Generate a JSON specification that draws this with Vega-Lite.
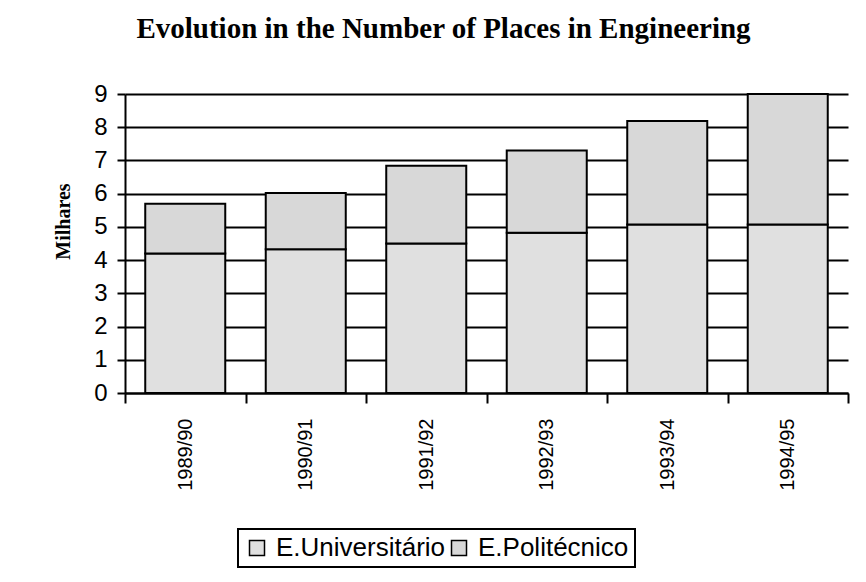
{
  "$schema": "https://vega.github.io/schema/vega-lite/v6.json",
  "width": 723,
  "height": 299,
  "autosize": {"type": "none"},
  "padding": {"left": 125, "top": 94, "right": 18, "bottom": 189},
  "background": "white",
  "title": {
    "text": "Evolution in the Number of Places in Engineering",
    "font": "Liberation Serif",
    "fontSize": 29,
    "fontWeight": "bold",
    "color": "black",
    "anchor": "middle",
    "frame": "group",
    "dx": -43,
    "baseline": "alphabetic",
    "offset": 15
  },
  "data": {
    "values": [
      {"year": "1989/90", "type": "E.Universitário", "rank": 1, "value": 4.20},
      {"year": "1989/90", "type": "E.Politécnico", "rank": 2, "value": 1.50},
      {"year": "1990/91", "type": "E.Universitário", "rank": 1, "value": 4.33},
      {"year": "1990/91", "type": "E.Politécnico", "rank": 2, "value": 1.69},
      {"year": "1991/92", "type": "E.Universitário", "rank": 1, "value": 4.50},
      {"year": "1991/92", "type": "E.Politécnico", "rank": 2, "value": 2.34},
      {"year": "1992/93", "type": "E.Universitário", "rank": 1, "value": 4.82},
      {"year": "1992/93", "type": "E.Politécnico", "rank": 2, "value": 2.48},
      {"year": "1993/94", "type": "E.Universitário", "rank": 1, "value": 5.07},
      {"year": "1993/94", "type": "E.Politécnico", "rank": 2, "value": 3.12},
      {"year": "1994/95", "type": "E.Universitário", "rank": 1, "value": 5.07},
      {"year": "1994/95", "type": "E.Politécnico", "rank": 2, "value": 3.93}
    ]
  },
  "mark": {"type": "bar", "stroke": "black", "strokeWidth": 2, "width": {"band": 0.664}},
  "encoding": {
    "x": {
      "field": "year",
      "type": "nominal",
      "sort": null,
      "scale": {"paddingInner": 0, "paddingOuter": 0},
      "axis": {
        "title": null,
        "labelAngle": -90,
        "labelFont": "Liberation Sans",
        "labelFontSize": 20,
        "labelColor": "black",
        "labelPadding": 15,
        "tickBand": "extent",
        "tickSize": 10,
        "tickColor": "black",
        "tickWidth": 2,
        "domainColor": "black",
        "domainWidth": 2,
        "grid": false
      }
    },
    "y": {
      "field": "value",
      "type": "quantitative",
      "stack": "zero",
      "scale": {"domain": [0, 9], "nice": false},
      "axis": {
        "values": [0, 1, 2, 3, 4, 5, 6, 7, 8, 9],
        "title": "Milhares",
        "titleFont": "Liberation Serif",
        "titleFontSize": 20,
        "titleFontWeight": 900,
        "titleColor": "black",
        "titleX": -62,
        "titleY": 127,
        "titleAngle": -90,
        "titleAlign": "center",
        "titleBaseline": "middle",
        "labelFont": "Liberation Sans",
        "labelFontSize": 24,
        "labelColor": "black",
        "labelPadding": 10,
        "tickSize": 8,
        "tickColor": "black",
        "tickWidth": 2,
        "domainColor": "black",
        "domainWidth": 2,
        "grid": true,
        "gridColor": "black",
        "gridWidth": 2,
        "gridOpacity": 1
      }
    },
    "color": {
      "field": "type",
      "type": "nominal",
      "scale": {
        "domain": ["E.Universitário", "E.Politécnico"],
        "range": ["#e0e0e0", "#d8d8d8"]
      },
      "legend": {
        "title": null,
        "orient": "none",
        "direction": "horizontal",
        "legendX": 113,
        "legendY": 435,
        "symbolType": "square",
        "symbolSize": 225,
        "symbolStrokeColor": "black",
        "symbolStrokeWidth": 1.5,
        "symbolOpacity": 1,
        "labelFont": "Liberation Sans",
        "labelFontSize": 26,
        "labelColor": "black",
        "labelLimit": 400,
        "labelOffset": 6,
        "columnPadding": 0,
        "padding": 6,
        "strokeColor": "black"
      }
    },
    "order": {"field": "rank", "type": "quantitative"}
  },
  "config": {
    "view": {"stroke": null},
    "legend": {"strokeWidth": 2}
  }
}
